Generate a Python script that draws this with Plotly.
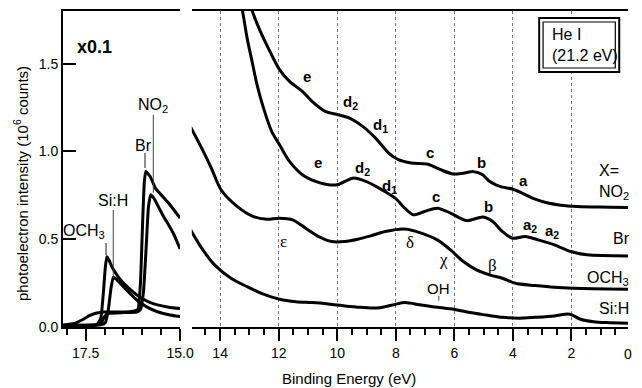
import plotly.graph_objects as go

# ---------------- data ----------------
# Right panel: He I valence-band spectra (binding energy in eV, intensity in 10^6 counts)
no2_be = [13.2, 12.91, 12.63, 12.30, 11.97, 11.63, 11.19, 10.86, 10.41, 9.97, 9.58, 9.13, 8.69, 8.24,
          7.91, 7.47, 6.9, 6.47, 6.05, 5.7, 5.35, 5.03, 4.8, 4.58, 4.36, 4.02, 3.69, 3.24, 2.8, 2.36,
          1.8, 1.03, 0.0]
no2_int = [1.97, 1.803, 1.685, 1.570, 1.466, 1.399, 1.342, 1.285, 1.228, 1.209, 1.190, 1.143, 1.076, 0.991,
           0.953, 0.934, 0.927, 0.896, 0.872, 0.876, 0.885, 0.867, 0.83, 0.81, 0.797, 0.786, 0.763, 0.728,
           0.706, 0.694, 0.687, 0.683, 0.681]

br_be = [13.5, 13.24, 13.08, 12.91, 12.74, 12.52, 12.24, 11.97, 11.63, 11.19, 10.74, 10.30, 9.97, 9.47,
         9.02, 8.47, 8.02, 7.69, 7.40, 7.02, 6.58, 6.13, 5.58, 5.02, 4.69, 4.36, 4.02, 3.58, 3.13, 2.58,
         2.02, 1.47, 0.0]
br_int = [2.0, 1.803, 1.647, 1.513, 1.380, 1.248, 1.114, 1.038, 0.943, 0.867, 0.829, 0.810, 0.812, 0.848,
          0.829, 0.781, 0.734, 0.677, 0.639, 0.658, 0.677, 0.649, 0.606, 0.626, 0.601, 0.544, 0.506, 0.515,
          0.496, 0.468, 0.430, 0.411, 0.405]

och3_be = [15.02, 14.63, 14.30, 13.97, 13.41, 12.86, 12.41, 11.97, 11.52, 11.08, 10.63, 10.19, 9.74, 9.30,
           8.86, 8.36, 7.69, 7.13, 6.58, 6.13, 5.69, 5.24, 4.80, 4.36, 3.91, 3.24, 2.58, 1.91, 0.0]
och3_int = [1.143, 1.019, 0.905, 0.782, 0.686, 0.629, 0.614, 0.620, 0.610, 0.563, 0.515, 0.487, 0.487, 0.500,
            0.519, 0.544, 0.558, 0.535, 0.496, 0.439, 0.373, 0.325, 0.297, 0.278, 0.249, 0.236, 0.226, 0.221,
            0.215]

sih_be = [15.02, 14.63, 14.19, 13.63, 13.08, 12.52, 11.97, 11.41, 10.86, 10.30, 9.74, 9.19, 8.63, 8.36,
          8.02, 7.69, 7.13, 6.58, 6.02, 5.47, 4.91, 4.36, 3.80, 3.24, 2.58, 2.13, 1.97, 1.69, 1.24, 0.80, 0.0]
sih_int = [0.557, 0.449, 0.354, 0.278, 0.230, 0.187, 0.158, 0.144, 0.139, 0.131, 0.120, 0.112, 0.108, 0.116,
           0.129, 0.139, 0.125, 0.112, 0.101, 0.082, 0.068, 0.055, 0.050, 0.055, 0.063, 0.074, 0.068, 0.044,
           0.030, 0.025, 0.021]

# Left panel: secondary-electron cutoff region (x0.1)
no2_cut_be = [18.1, 17.3, 17.1, 17.0, 16.9, 16.5, 16.15, 16.05, 15.97, 15.9, 15.84, 15.78, 15.7, 15.55,
              15.44, 15.3, 15.18, 15.0]
no2_cut_int = [0.005, 0.008, 0.02, 0.06, 0.078, 0.082, 0.085, 0.10, 0.2, 0.45, 0.68, 0.753, 0.735, 0.675,
               0.63, 0.58, 0.534, 0.445]

br_cut_be = [18.1, 17.8, 17.6, 17.4, 17.2, 17.0, 16.6, 16.3, 16.12, 16.05, 16.0, 15.95, 15.91, 15.8, 15.65,
             15.3, 15.0]
br_cut_int = [0.01, 0.02, 0.04, 0.065, 0.08, 0.085, 0.085, 0.088, 0.10, 0.25, 0.55, 0.82, 0.886, 0.86, 0.79,
              0.705, 0.62]

och3_cut_be = [18.1, 17.5, 17.2, 17.1, 17.03, 16.98, 16.94, 16.88, 16.8, 16.65, 16.5, 16.3, 16.1, 15.85,
               15.6, 15.3, 15.0]
och3_cut_int = [0.01, 0.01, 0.015, 0.05, 0.2, 0.34, 0.40, 0.38, 0.34, 0.29, 0.25, 0.21, 0.175, 0.145, 0.126,
                0.113, 0.105]

sih_cut_be = [18.1, 17.5, 17.1, 16.98, 16.9, 16.83, 16.77, 16.7, 16.5, 16.3, 16.1, 15.85, 15.6, 15.3, 15.0]
sih_cut_int = [0.01, 0.01, 0.012, 0.025, 0.1, 0.22, 0.283, 0.275, 0.23, 0.185, 0.145, 0.11, 0.087, 0.07,
               0.059]

FONT = "Liberation Sans, Arial, Helvetica, sans-serif"
SERIF = "Liberation Serif, Times New Roman, serif"

fig = go.Figure()

line_r = dict(color="black", width=3, shape="spline", smoothing=0.8)
line_l = dict(color="black", width=3, shape="spline", smoothing=0.4)

for xs, ys in [(no2_be, no2_int), (br_be, br_int), (och3_be, och3_int), (sih_be, sih_int)]:
    fig.add_trace(go.Scatter(x=xs, y=ys, mode="lines", line=line_r, xaxis="x2", yaxis="y2",
                             showlegend=False, hoverinfo="skip"))

for xs, ys in [(no2_cut_be, no2_cut_int), (br_cut_be, br_cut_int),
               (och3_cut_be, och3_cut_int), (sih_cut_be, sih_cut_int)]:
    fig.add_trace(go.Scatter(x=xs, y=ys, mode="lines", line=line_l, xaxis="x", yaxis="y",
                             showlegend=False, hoverinfo="skip"))

ann = []

def add(text, x, y, xref, yref, size=15, bold=False, family=FONT, xanchor="center", yanchor="middle", align="center"):
    t = f"<b>{text}</b>" if bold else text
    ann.append(dict(text=t, x=x, y=y, xref=xref, yref=yref, showarrow=False,
                    font=dict(size=size, family=family, color="black"),
                    xanchor=xanchor, yanchor=yanchor, align=align))

# bold peak labels (NO2 and Br spectra)
for t, x, y in [("e", 11.03, 1.426), ("d<sub>2</sub>", 9.53, 1.28), ("d<sub>1</sub>", 8.53, 1.145),
                ("c", 6.83, 0.993), ("b", 5.07, 0.936), ("a", 3.63, 0.833),
                ("e", 10.67, 0.936), ("d<sub>2</sub>", 9.13, 0.905), ("d<sub>1</sub>", 8.2, 0.80),
                ("c", 6.63, 0.742), ("b", 4.83, 0.685), ("a<sub>2</sub>", 3.4, 0.58), ("a<sub>2</sub>", 2.67, 0.545)]:
    add(t, x, y, "x2", "y2", size=15, bold=True)

# greek labels (OCH3 spectrum)
for t, x, y in [("ε", 11.83, 0.485), ("δ", 7.53, 0.479), ("χ", 6.37, 0.382), ("β", 4.7, 0.348)]:
    add(t, x, y, "x2", "y2", size=17, family=SERIF)
add("OH", 6.53, 0.217, "x2", "y2", size=15)

# right-edge series names (clipped by the window edge, as in the original)
add("X=", 0.9447, 0.4937, "paper", "paper", size=16, xanchor="left")
add("NO<sub>2</sub>", 0.9447, 0.425, "paper", "paper", size=16, xanchor="left")
add("Br", 0.9706, 0.2785, "paper", "paper", size=16, xanchor="left")
add("OCH<sub>3</sub>", 0.924, 0.155, "paper", "paper", size=16, xanchor="left")
add("Si:H", 0.9447, 0.0601, "paper", "paper", size=16, xanchor="left")

# left panel labels
add("<b>x0.1</b>", 17.26, 1.597, "x", "y", size=18)
add("NO<sub>2</sub>", 15.71, 1.262, "x", "y", size=16)
add("Br", 15.97, 1.032, "x", "y", size=16)
add("Si:H", 16.77, 0.719, "x", "y", size=16)
add("OCH<sub>3</sub>", 17.54, 0.543, "x", "y", size=16)

# He I box text
add("He I<br>(21.2 eV)", 0.8618, 0.8924, "paper", "paper", size=16, xanchor="left", align="left")

# axis titles
add("Binding Energy (eV)", 0.507, -0.163, "paper", "paper", size=15)
ann.append(dict(text="photoelectron intensity (10<sup>6</sup> counts)", x=-0.074, y=0.453,
                xref="paper", yref="paper", showarrow=False, textangle=-90,
                font=dict(size=15, family=FONT, color="black"), xanchor="center", yanchor="middle"))
# partially visible 0 tick label at right edge
add("0", 1.0, -0.0854, "paper", "paper", size=14)

shapes = [
    # double box around He I
    dict(type="rect", xref="paper", yref="paper", x0=0.8428, x1=0.9845, y0=0.8070, y1=0.9778,
         line=dict(color="black", width=2), fillcolor="white", layer="above"),
    dict(type="rect", xref="paper", yref="paper", x0=0.8497, x1=0.9775, y0=0.8196, y1=0.9652,
         line=dict(color="black", width=1.2), layer="above"),
    # label leader lines (left panel)
    dict(type="line", xref="x", yref="y", x0=15.71, x1=15.71, y0=1.209, y1=0.764, line=dict(color="#444", width=1)),
    dict(type="line", xref="x", yref="y", x0=15.93, x1=15.93, y0=0.991, y1=0.905, line=dict(color="#444", width=1.2)),
    dict(type="line", xref="x", yref="y", x0=16.77, x1=16.77, y0=0.667, y1=0.28, line=dict(color="#444", width=1)),
    dict(type="line", xref="x", yref="y", x0=16.96, x1=16.96, y0=0.479, y1=0.41, line=dict(color="#444", width=1.2)),
    # OH marker
    dict(type="line", xref="x2", yref="y2", x0=6.53, x1=6.53, y0=0.177, y1=0.150, line=dict(color="#444", width=1)),
]

axis_common = dict(showline=True, linecolor="black", linewidth=2, zeroline=False,
                   tickfont=dict(size=14, family=FONT, color="black"))

fig.update_layout(
    width=642, height=388,
    margin=dict(l=63, r=0, t=11, b=61),
    paper_bgcolor="white", plot_bgcolor="white",
    font=dict(family=FONT, color="black"),
    showlegend=False,
    xaxis=dict(domain=[0, 0.2073], range=[18.1, 15.0], anchor="y", mirror=True,
               ticks="outside", ticklen=12, tickwidth=2, tickcolor="black",
               tick0=15, dtick=2.5, tickformat=".1f", showgrid=False,
               minor=dict(ticks="outside", ticklen=6, tickwidth=2, tickcolor="black", tick0=15, dtick=0.5,
                          showgrid=False),
               **axis_common),
    yaxis=dict(domain=[0, 1], range=[0, 1.8], anchor="x",
               ticks="inside", ticklen=13, tickwidth=2, tickcolor="black",
               tick0=0, dtick=0.5, tickformat=".1f", showgrid=False, **axis_common),
    xaxis2=dict(domain=[0.228, 1], range=[14.967, 0.067], anchor="y2", mirror=True,
                ticks="outside", ticklen=12, tickwidth=2, tickcolor="black",
                tick0=0, dtick=2, showgrid=True, gridcolor="#777", griddash="dot", gridwidth=1,
                minor=dict(ticks="outside", ticklen=6, tickwidth=2, tickcolor="black", tick0=0, dtick=0.5,
                           showgrid=False),
                **axis_common),
    yaxis2=dict(domain=[0, 1], range=[0, 1.8], anchor="x2", visible=False),
    annotations=ann,
    shapes=shapes,
)

# remove the default page margin so the 642x388 figure fills the window exactly; no mode bar
fig.write_html("out.html", config={"displayModeBar": False},
               post_script="document.body.style.margin='0';document.documentElement.style.overflow='hidden';")
